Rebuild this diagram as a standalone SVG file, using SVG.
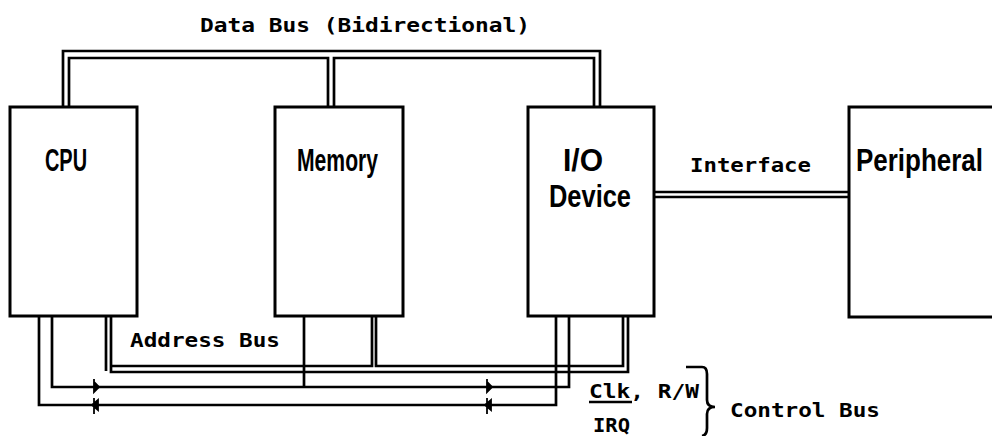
<svg xmlns="http://www.w3.org/2000/svg" width="992" height="436" viewBox="0 0 992 436">
<style>
.box{fill:#fff;stroke:#000;stroke-width:3}
.ln{fill:none;stroke:#000;stroke-width:2.7}
.bold{font-family:"Liberation Sans",Arial,sans-serif;font-weight:bold;font-size:32px;fill:#000}
.pix{font-family:"DejaVu Sans Mono","Liberation Mono",monospace;font-weight:bold;font-size:19px;fill:#000}
</style>
<rect width="992" height="436" fill="#fff"/>
<g id="connectors">
<path class="ln" d="M63,107 V51 H600 V107"/>
<path class="ln" d="M69,107 V58 H328 V107"/>
<path class="ln" d="M334,107 V58 H594 V107"/>
<path class="ln" d="M654,192 H849"/>
<path class="ln" d="M654,197 H849"/>
<path class="ln" d="M106,316 V371"/>
<path class="ln" d="M111,316 V372 H628 V316"/>
<path class="ln" d="M111,366 H372 V316"/>
<path class="ln" d="M376,316 V366 H623 V316"/>
<path class="ln" d="M52,316 V387 H569 V316"/>
<path class="ln" d="M304,316 V387"/>
<path class="ln" d="M39,316 V405 H556 V316"/>
<g fill="#000" stroke="#000" stroke-width="1.8">
<path d="M94,379 V392 M94,382 L99,387 L94,392 Z"/>
<path d="M94,398 V414 M98,400 L92,405 L98,410 Z"/>
<path d="M487,379 V392 M487,382 L492,387 L487,392 Z"/>
<path d="M487,398 V414 M491,400 L485,405 L491,410 Z"/>
</g>
<path class="ln" d="M686,367 H702 Q707,367 707,374 V400 Q707,407 715,407 Q707,407 707,414 V428 Q707,435 702,436"/>
<path class="ln" d="M589,402 H632"/>
</g>
<g id="cpu">
<rect class="box" x="10" y="107" width="127" height="209"/>
<text class="bold" x="45" y="171" textLength="42" lengthAdjust="spacingAndGlyphs">CPU</text>
</g>
<g id="memory">
<rect class="box" x="275" y="107" width="128" height="209"/>
<text class="bold" x="297" y="171" textLength="81" lengthAdjust="spacingAndGlyphs">Memory</text>
</g>
<g id="io">
<rect class="box" x="528" y="107" width="126" height="209"/>
<text class="bold" x="563" y="171" textLength="40" lengthAdjust="spacingAndGlyphs">I/O</text>
<text class="bold" x="549" y="207" textLength="82" lengthAdjust="spacingAndGlyphs">Device</text>
</g>
<g id="peripheral">
<rect class="box" x="849" y="107" width="160" height="210"/>
<text class="bold" x="856" y="171" textLength="127" lengthAdjust="spacingAndGlyphs">Peripheral</text>
</g>
<g id="labels">
<text class="pix" x="200" y="32" textLength="330" lengthAdjust="spacingAndGlyphs">Data Bus (Bidirectional)</text>
<text class="pix" x="690" y="172" textLength="121" lengthAdjust="spacingAndGlyphs">Interface</text>
<text class="pix" x="130" y="347" textLength="150" lengthAdjust="spacingAndGlyphs">Address Bus</text>
<text class="pix" x="589" y="398" textLength="110" lengthAdjust="spacingAndGlyphs">Clk, R/W</text>
<text class="pix" x="593" y="432" textLength="37" lengthAdjust="spacingAndGlyphs">IRQ</text>
<text class="pix" x="730" y="417" textLength="150" lengthAdjust="spacingAndGlyphs">Control Bus</text>
</g>
</svg>
